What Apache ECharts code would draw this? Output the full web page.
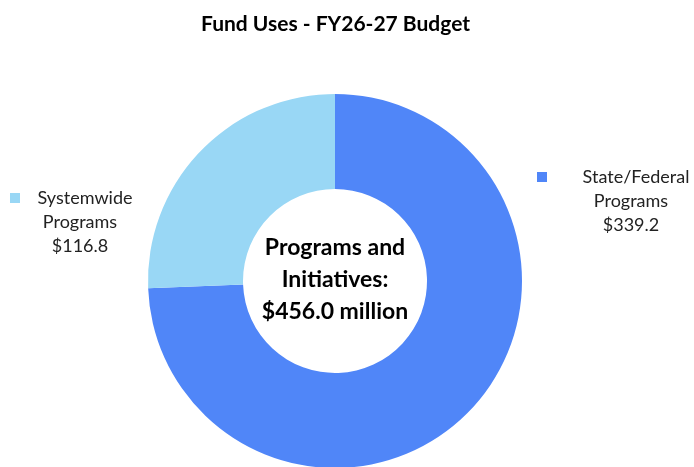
<!DOCTYPE html>
<html>
<head>
<meta charset="utf-8">
<script src="https://cdn.jsdelivr.net/npm/echarts@6/dist/echarts.min.js"></script>
<style>html,body{margin:0;padding:0;background:#fff}#c{width:694px;height:467px}</style>
</head>
<body>
<div id="c"></div>
<script>
const titleText = 'Fund Uses - FY26-27 Budget';
const categories = ['State/Federal Programs', 'Systemwide Programs'];
const labelLines = [['State/Federal', 'Programs'], ['Systemwide', 'Programs']];
const values = [339.2, 116.8];
const colors = ['#5086F8', '#99D7F5'];
const centerLabel = ['Programs and', 'Initiatives:'];

const total = values.reduce((a, b) => a + b, 0);
const FONT = 'Lato, "Open Sans", sans-serif';

const labelBoxes = [
  { x: 537, y: 165, width: 188 },
  { x: 10, y: 186, width: 140 }
];

const chart = echarts.init(document.getElementById('c'));
chart.setOption({
  animation: false,
  title: {
    text: titleText,
    left: 196,
    top: 9,
    textStyle: { fontFamily: FONT, fontWeight: 'bold', fontSize: 21, color: '#000' }
  },
  graphic: [{
    type: 'text',
    z: 100,
    x: 335, y: 280,
    style: {
      text: centerLabel.join('\n') + '\n$' + total.toFixed(1) + ' million',
      font: 'bold 23px ' + FONT,
      fill: '#000',
      align: 'center',
      verticalAlign: 'middle',
      lineHeight: 32
    }
  }],
  series: [{
    type: 'pie',
    center: [335, 281],
    radius: [92, 187],
    startAngle: 90,
    clockwise: true,
    avoidLabelOverlap: false,
    itemStyle: { borderWidth: 0 },
    emphasis: { disabled: true },
    data: categories.map((c, i) => ({
      name: c,
      value: values[i],
      itemStyle: { color: colors[i] },
      label: {
        width: labelBoxes[i].width,
        rich: {
          m: { backgroundColor: colors[i], width: 10, height: 10, align: 'left', verticalAlign: 'middle' },
          t: { fontFamily: FONT, fontSize: 18, color: '#222', lineHeight: 24, align: 'center' }
        }
      }
    })),
    label: {
      show: true,
      position: 'outside',
      formatter: p => {
        const l = labelLines[p.dataIndex];
        return '{m|}{t|' + l[0] + '}\n{t|' + l[1] + '}\n{t|$' + p.value.toFixed(1) + '}';
      }
    },
    labelLine: { show: false },
    labelLayout: p => ({
      x: labelBoxes[p.dataIndex].x,
      y: labelBoxes[p.dataIndex].y,
      align: 'left',
      verticalAlign: 'top'
    })
  }]
});
</script>
</body>
</html>
